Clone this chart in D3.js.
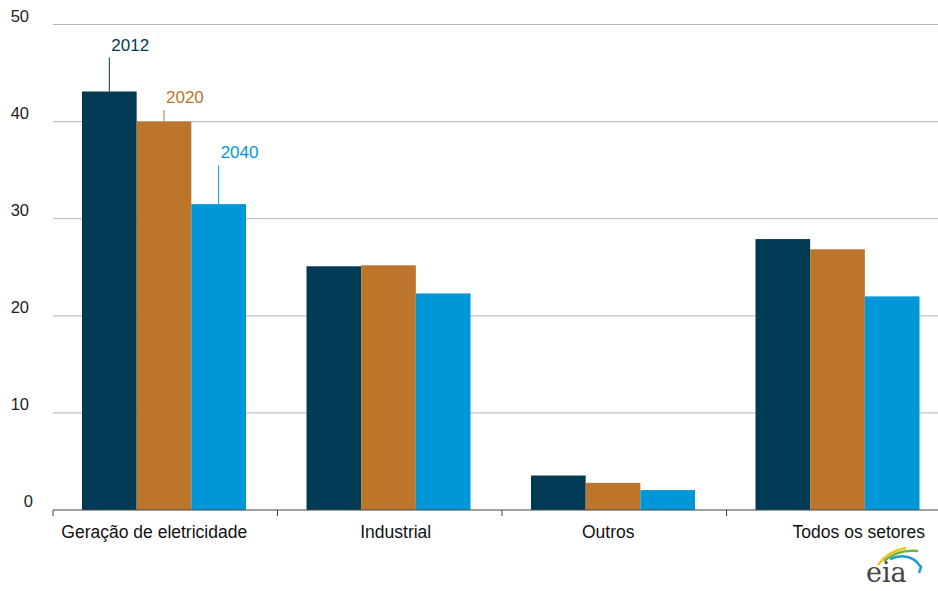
<!DOCTYPE html>
<html>
<head>
<meta charset="utf-8">
<script src="https://cdn.jsdelivr.net/npm/d3@7"></script>
<style>
  body { margin: 0; background: #fff; }
  text { font-family: "Liberation Sans", Arial, sans-serif; }
</style>
</head>
<body>
<div id="chart"></div>
<script>
// categories and series
const categories = ["Geração de eletricidade", "Industrial", "Outros", "Todos os setores"];
const years = ["2012", "2020", "2040"];
const v2012 = [43.1, 25.1, 3.55, 27.9];
const v2020 = [40.0, 25.2, 2.8, 26.85];
const v2040 = [31.5, 22.3, 2.05, 22.0];
const yTicks = [0, 10, 20, 30, 40, 50];
// height (in data units) of the leader lines for the year labels
const labelTop = [46.6, 41.2, 35.5];
const labelShift = [-11, 6, -6, 20];

const colors = { "2012": "#003a54", "2020": "#bd742b", "2040": "#0097d8" };

const width = 938, height = 591;
const plotLeft = 53, plotBottom = 510, plotTop = 24.5;

const data = categories.map(function (c, i) {
    return { cat: c, values: [v2012[i], v2020[i], v2040[i]] };
});

const svg = d3.select("#chart").append("svg")
    .attr("width", width)
    .attr("height", height);

const y = d3.scaleLinear().domain([0, 50]).range([plotBottom, plotTop]);

const x0 = d3.scaleBand().domain(categories).range([plotLeft, plotLeft + 4 * 224.5]);
const x1 = d3.scaleBand().domain(years).range([29, 193]);

// gridlines
svg.append("g")
    .selectAll("line")
    .data(yTicks.filter(d => d > 0))
    .enter().append("line")
    .attr("x1", plotLeft)
    .attr("x2", width)
    .attr("y1", d => y(d))
    .attr("y2", d => y(d))
    .style("stroke", "#b5b5b5")
    .style("stroke-width", 1);

// y labels
svg.append("g")
    .selectAll("text")
    .data(yTicks)
    .enter().append("text")
    .attr("x", d => d === 0 ? 33 : 29)
    .attr("y", d => y(d) - 3)
    .attr("text-anchor", "end")
    .style("font-size", "16.5px")
    .style("fill", "#222")
    .text(d => d);

// bars
const groups = svg.append("g")
    .selectAll("g")
    .data(data)
    .enter().append("g")
    .attr("transform", d => "translate(" + x0(d.cat) + ",0)");

groups.selectAll("rect")
    .data(d => d.values.map((v, i) => ({ year: years[i], value: v })))
    .enter().append("rect")
    .attr("x", d => x1(d.year))
    .attr("width", x1.bandwidth())
    .attr("y", d => y(d.value))
    .attr("height", d => y(0) - y(d.value))
    .style("fill", d => colors[d.year]);

// x axis
const xAxis = svg.append("g").attr("transform", "translate(0," + plotBottom + ")");
xAxis.append("line")
    .attr("x1", plotLeft).attr("x2", width)
    .attr("y1", 0).attr("y2", 0)
    .style("stroke", "#444")
    .style("stroke-width", 1);
xAxis.selectAll(".tick")
    .data(categories)
    .enter().append("line")
    .attr("x1", d => x0(d)).attr("x2", d => x0(d))
    .attr("y1", 0).attr("y2", 6)
    .style("stroke", "#444");
xAxis.selectAll(".lab")
    .data(categories)
    .enter().append("text")
    .attr("x", (d, i) => x0(d) + x0.bandwidth() / 2 + labelShift[i])
    .attr("y", 28)
    .attr("text-anchor", "middle")
    .style("font-size", "17.5px")
    .style("fill", "#111")
    .text(d => d);

// year labels on the first group
const first = data[0];
const ann = svg.append("g").attr("transform", "translate(" + x0(first.cat) + ",0)");
years.forEach(function (yr, i) {
    const cx = x1(yr) + x1.bandwidth() / 2;
    ann.append("line")
        .attr("x1", cx).attr("x2", cx)
        .attr("y1", y(labelTop[i])).attr("y2", y(first.values[i]))
        .style("stroke", colors[yr])
        .style("stroke-width", 1);
    ann.append("text")
        .attr("x", cx + 2)
        .attr("y", y(labelTop[i]) - 7)
        .style("font-size", "17px")
        .style("fill", colors[yr])
        .text(yr);
});

// eia logo
const logo = svg.append("g").attr("transform", "translate(866,543)");
logo.append("path").attr("d", "M12,22 Q22,8 40,5").style("fill", "none").style("stroke", "#f2c318").style("stroke-width", 2.5);
logo.append("path").attr("d", "M18,18 Q32,6 52,8").style("fill", "none").style("stroke", "#6cb33f").style("stroke-width", 2.5);
logo.append("path").attr("d", "M24,16 Q44,8 55,24 L53,30").style("fill", "none").style("stroke", "#1f9ad6").style("stroke-width", 2.5);
logo.append("text")
    .attr("x", 0).attr("y", 39)
    .style("font-family", "'DejaVu Serif', 'Liberation Serif', serif")
    .style("font-size", "27px")
    .style("fill", "#444")
    .text("eia");
</script>
</body>
</html>
